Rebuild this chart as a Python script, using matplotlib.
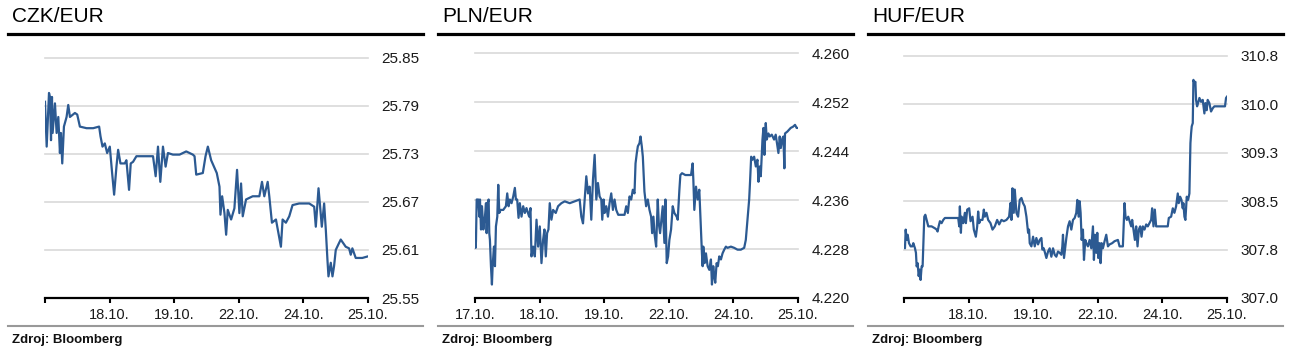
import matplotlib
matplotlib.use("Agg")
import matplotlib.pyplot as plt
from matplotlib.lines import Line2D

plt.rcParams['font.family'] = ['Liberation Sans', 'DejaVu Sans']

# x positions are in trading-day units: 0 = 17.10., 5 = 25.10.
day_labels = ['17.10.', '18.10.', '19.10.', '22.10.', '24.10.', '25.10.']

czk_ticks = [25.55, 25.61, 25.67, 25.73, 25.79, 25.85]
czk_labels = ['25.55', '25.61', '25.67', '25.73', '25.79', '25.85']
czk_points = [
    (0, 25.795), (0.026, 25.739), (0.062, 25.806), (0.077, 25.801), (0.093, 25.747),
    (0.108, 25.801), (0.118, 25.756), (0.154, 25.793), (0.180, 25.756), (0.206, 25.776),
    (0.231, 25.731), (0.247, 25.756), (0.267, 25.718), (0.293, 25.764), (0.334, 25.776),
    (0.360, 25.791), (0.386, 25.776), (0.463, 25.781), (0.499, 25.779), (0.540, 25.764),
    (0.643, 25.762), (0.746, 25.762), (0.838, 25.764), (0.859, 25.752), (0.890, 25.739),
    (0.926, 25.743), (0.962, 25.731), (1.003, 25.739), (1.039, 25.706), (1.070, 25.679),
    (1.106, 25.714), (1.132, 25.735), (1.168, 25.718), (1.235, 25.718), (1.260, 25.722),
    (1.301, 25.685), (1.327, 25.718), (1.363, 25.720), (1.415, 25.727), (1.466, 25.727),
    (1.569, 25.727), (1.672, 25.727), (1.713, 25.702), (1.749, 25.739), (1.785, 25.695),
    (1.826, 25.739), (1.867, 25.714), (1.903, 25.731), (1.980, 25.729), (2.083, 25.729),
    (2.186, 25.733), (2.289, 25.729), (2.315, 25.727), (2.341, 25.704), (2.443, 25.706),
    (2.485, 25.727), (2.521, 25.739), (2.572, 25.722), (2.659, 25.706), (2.701, 25.689),
    (2.716, 25.654), (2.742, 25.677), (2.778, 25.656), (2.804, 25.629), (2.829, 25.660),
    (2.881, 25.648), (2.932, 25.662), (2.973, 25.710), (3.009, 25.656), (3.035, 25.693),
    (3.061, 25.652), (3.112, 25.673), (3.215, 25.677), (3.318, 25.677), (3.359, 25.695),
    (3.395, 25.677), (3.447, 25.695), (3.472, 25.677), (3.513, 25.644), (3.575, 25.648),
    (3.652, 25.614), (3.678, 25.648), (3.729, 25.644), (3.781, 25.652), (3.832, 25.666),
    (3.935, 25.668), (4.090, 25.668), (4.167, 25.664), (4.192, 25.639), (4.234, 25.687),
    (4.259, 25.664), (4.285, 25.639), (4.321, 25.668), (4.347, 25.635), (4.372, 25.598),
    (4.388, 25.577), (4.424, 25.594), (4.450, 25.577), (4.475, 25.590), (4.501, 25.610),
    (4.542, 25.617), (4.578, 25.623), (4.655, 25.614), (4.707, 25.612), (4.733, 25.604),
    (4.758, 25.612), (4.810, 25.600), (4.912, 25.600), (5.0, 25.602),
]

pln_ticks = [4.220, 4.228, 4.236, 4.244, 4.252, 4.260]
pln_labels = ['4.220', '4.228', '4.236', '4.244', '4.252', '4.260']
pln_points = [
    (0, 4.2295), (0.010, 4.2282), (0.015, 4.2293), (0.026, 4.2361), (0.051, 4.2361),
    (0.067, 4.2333), (0.077, 4.2361), (0.093, 4.2312), (0.108, 4.2350), (0.129, 4.2312),
    (0.144, 4.2328), (0.154, 4.2333), (0.170, 4.2355), (0.180, 4.2306), (0.195, 4.2355),
    (0.211, 4.2361), (0.221, 4.2306), (0.231, 4.2295), (0.247, 4.2252), (0.262, 4.2222),
    (0.273, 4.2252), (0.293, 4.2284), (0.309, 4.2252), (0.324, 4.2317), (0.345, 4.2333),
    (0.360, 4.2385), (0.376, 4.2339), (0.396, 4.2344), (0.437, 4.2344), (0.478, 4.2350),
    (0.499, 4.2371), (0.520, 4.2350), (0.540, 4.2361), (0.566, 4.2355), (0.592, 4.2366),
    (0.617, 4.2380), (0.633, 4.2361), (0.653, 4.2361), (0.674, 4.2331), (0.694, 4.2355),
    (0.720, 4.2333), (0.746, 4.2350), (0.772, 4.2339), (0.797, 4.2347), (0.838, 4.2333),
    (0.859, 4.2347), (0.874, 4.2268), (0.900, 4.2284), (0.926, 4.2268), (0.952, 4.2328),
    (0.977, 4.2284), (1.003, 4.2317), (1.029, 4.2257), (1.054, 4.2295), (1.075, 4.2312),
    (1.096, 4.2268), (1.116, 4.2306), (1.137, 4.2312), (1.157, 4.2355), (1.183, 4.2328),
    (1.209, 4.2344), (1.250, 4.2339), (1.286, 4.2350), (1.337, 4.2355), (1.389, 4.2358),
    (1.466, 4.2355), (1.543, 4.2358), (1.620, 4.2361), (1.646, 4.2333), (1.672, 4.2322),
    (1.698, 4.2361), (1.723, 4.2399), (1.749, 4.2371), (1.775, 4.2382), (1.800, 4.2328),
    (1.826, 4.2393), (1.852, 4.2434), (1.878, 4.2361), (1.903, 4.2388), (1.929, 4.2366),
    (1.955, 4.2361), (1.970, 4.2328), (1.991, 4.2361), (2.006, 4.2339), (2.032, 4.2350),
    (2.058, 4.2333), (2.083, 4.2355), (2.109, 4.2371), (2.135, 4.2344), (2.160, 4.2361),
    (2.186, 4.2344), (2.217, 4.2336), (2.263, 4.2336), (2.315, 4.2336), (2.341, 4.2350),
    (2.366, 4.2339), (2.392, 4.2366), (2.418, 4.2361), (2.443, 4.2377), (2.469, 4.2371),
    (2.485, 4.2420), (2.505, 4.2437), (2.521, 4.2448), (2.546, 4.2453), (2.562, 4.2464),
    (2.582, 4.2448), (2.598, 4.2431), (2.623, 4.2374), (2.649, 4.2350), (2.675, 4.2361),
    (2.701, 4.2344), (2.726, 4.2333), (2.742, 4.2306), (2.762, 4.2333), (2.778, 4.2306),
    (2.804, 4.2284), (2.829, 4.2361), (2.845, 4.2322), (2.865, 4.2306), (2.896, 4.2339),
    (2.906, 4.2350), (2.932, 4.2290), (2.948, 4.2361), (2.968, 4.2257), (2.989, 4.2268),
    (3.009, 4.2295), (3.035, 4.2312), (3.061, 4.2350), (3.086, 4.2339), (3.122, 4.2333),
    (3.138, 4.2328), (3.164, 4.2377), (3.179, 4.2401), (3.205, 4.2404), (3.256, 4.2401),
    (3.292, 4.2401), (3.344, 4.2401), (3.369, 4.2420), (3.380, 4.2393), (3.395, 4.2344),
    (3.421, 4.2382), (3.447, 4.2361), (3.472, 4.2377), (3.498, 4.2312), (3.513, 4.2273),
    (3.524, 4.2252), (3.534, 4.2284), (3.554, 4.2257), (3.575, 4.2273), (3.601, 4.2252),
    (3.627, 4.2246), (3.652, 4.2263), (3.668, 4.2222), (3.688, 4.2252), (3.704, 4.2235),
    (3.719, 4.2225), (3.740, 4.2257), (3.760, 4.2252), (3.781, 4.2268), (3.807, 4.2263),
    (3.832, 4.2273), (3.858, 4.2279), (3.884, 4.2284), (3.909, 4.2282), (3.961, 4.2284),
    (4.012, 4.2282), (4.064, 4.2279), (4.115, 4.2279), (4.167, 4.2282), (4.192, 4.2295),
    (4.218, 4.2328), (4.244, 4.2361), (4.259, 4.2393), (4.275, 4.2431), (4.295, 4.2426),
    (4.321, 4.2431), (4.347, 4.2415), (4.372, 4.2426), (4.388, 4.2390), (4.408, 4.2415),
    (4.424, 4.2399), (4.450, 4.2459), (4.465, 4.2478), (4.480, 4.2434), (4.501, 4.2486),
    (4.516, 4.2459), (4.542, 4.2469), (4.563, 4.2464), (4.594, 4.2467), (4.630, 4.2459),
    (4.655, 4.2467), (4.681, 4.2448), (4.697, 4.2437), (4.717, 4.2464), (4.733, 4.2445),
    (4.758, 4.2461), (4.774, 4.2464), (4.789, 4.2412), (4.799, 4.2469), (4.835, 4.2472),
    (4.887, 4.2478), (4.923, 4.2480), (4.954, 4.2483), (4.979, 4.2478), (5.0, 4.2478),
]

huf_ticks = [307.0, 307.75, 308.5, 309.25, 310.0, 310.75]
huf_labels = ['307.0', '307.8', '308.5', '309.3', '310.0', '310.8']
huf_points = [
    (0, 307.80), (0.015, 307.77), (0.026, 308.06), (0.041, 307.90), (0.057, 307.98),
    (0.077, 307.85), (0.103, 307.80), (0.129, 307.80), (0.144, 307.85), (0.170, 307.77),
    (0.185, 307.70), (0.196, 307.49), (0.211, 307.54), (0.227, 307.34), (0.242, 307.44),
    (0.257, 307.28), (0.273, 307.49), (0.288, 307.49), (0.299, 307.83), (0.314, 308.26),
    (0.330, 308.29), (0.350, 308.21), (0.376, 308.11), (0.427, 308.11), (0.479, 308.08),
    (0.505, 308.06), (0.520, 308.03), (0.536, 308.11), (0.556, 308.19), (0.582, 308.16),
    (0.608, 308.21), (0.633, 308.24), (0.685, 308.24), (0.762, 308.24), (0.839, 308.24),
    (0.855, 308.11), (0.865, 308.42), (0.881, 308.01), (0.891, 308.26), (0.917, 308.16),
    (0.942, 308.32), (0.958, 308.16), (0.978, 308.37), (1.009, 308.39), (1.030, 308.19),
    (1.061, 308.26), (1.081, 308.06), (1.112, 307.95), (1.133, 308.11), (1.148, 308.34),
    (1.164, 308.16), (1.184, 308.21), (1.215, 308.21), (1.236, 308.37), (1.251, 308.26),
    (1.277, 308.32), (1.303, 308.21), (1.339, 308.16), (1.370, 308.06), (1.406, 308.11),
    (1.442, 308.21), (1.473, 308.14), (1.509, 308.21), (1.545, 308.19), (1.586, 308.21),
    (1.627, 308.26), (1.648, 308.47), (1.663, 308.21), (1.679, 308.70), (1.699, 308.32),
    (1.715, 308.68), (1.740, 308.32), (1.766, 308.26), (1.792, 308.52), (1.818, 308.55),
    (1.843, 308.47), (1.869, 308.42), (1.895, 308.26), (1.921, 308.01), (1.936, 308.06),
    (1.946, 307.85), (1.972, 307.80), (1.998, 307.95), (2.024, 307.80), (2.049, 307.93),
    (2.075, 307.83), (2.101, 307.90), (2.127, 307.93), (2.142, 307.75), (2.163, 307.77),
    (2.183, 307.70), (2.204, 307.62), (2.230, 307.72), (2.255, 307.77), (2.281, 307.64),
    (2.307, 307.77), (2.333, 307.67), (2.358, 307.64), (2.384, 307.72), (2.410, 307.70),
    (2.436, 307.67), (2.451, 307.80), (2.461, 307.98), (2.477, 307.62), (2.497, 307.80),
    (2.513, 307.93), (2.539, 308.11), (2.564, 308.19), (2.590, 308.06), (2.616, 308.21),
    (2.642, 308.24), (2.667, 308.32), (2.683, 308.52), (2.703, 308.26), (2.719, 308.50),
    (2.734, 308.32), (2.750, 307.90), (2.770, 308.06), (2.786, 307.59), (2.806, 307.90),
    (2.822, 307.85), (2.847, 307.80), (2.873, 307.90), (2.899, 307.77), (2.925, 308.11),
    (2.940, 307.59), (2.956, 307.98), (2.976, 307.70), (2.992, 308.01), (3.007, 307.62),
    (3.028, 307.85), (3.043, 307.54), (3.059, 307.85), (3.079, 307.77), (3.105, 307.88),
    (3.131, 307.98), (3.157, 307.80), (3.182, 307.83), (3.223, 307.85), (3.259, 307.88),
    (3.311, 307.90), (3.337, 307.80), (3.363, 307.80), (3.388, 307.80), (3.414, 308.47),
    (3.429, 308.26), (3.450, 308.21), (3.471, 308.26), (3.502, 308.16), (3.517, 308.11),
    (3.532, 308.21), (3.553, 308.06), (3.574, 307.90), (3.594, 308.11), (3.615, 307.80),
    (3.635, 308.06), (3.656, 308.11), (3.677, 307.95), (3.697, 308.11), (3.723, 308.06),
    (3.749, 308.14), (3.774, 308.11), (3.800, 308.16), (3.826, 308.21), (3.841, 308.39),
    (3.862, 308.11), (3.883, 308.37), (3.903, 308.11), (3.929, 308.11), (3.980, 308.11),
    (4.032, 308.11), (4.083, 308.11), (4.099, 308.24), (4.135, 308.26), (4.161, 308.39),
    (4.186, 308.32), (4.212, 308.42), (4.238, 308.62), (4.253, 308.47), (4.274, 308.57),
    (4.295, 308.52), (4.315, 308.39), (4.325, 308.47), (4.341, 308.26), (4.356, 308.21),
    (4.377, 308.57), (4.398, 308.52), (4.418, 308.62), (4.434, 309.40), (4.444, 309.55),
    (4.454, 309.66), (4.470, 309.71), (4.480, 310.38), (4.495, 310.33), (4.511, 310.35),
    (4.521, 310.07), (4.537, 309.97), (4.552, 310.02), (4.573, 310.10), (4.598, 310.04),
    (4.624, 310.07), (4.650, 309.86), (4.665, 310.02), (4.686, 309.91), (4.701, 310.07),
    (4.727, 310.02), (4.753, 309.89), (4.779, 309.94), (4.804, 309.97), (4.830, 309.97),
    (4.882, 309.97), (4.933, 309.97), (4.969, 309.97), (4.985, 310.10), (5.0, 310.12),
]

W, H = 1290, 356
LINE_COLOR = '#2c5a92'


def draw_panel(fig, off, plot_left, plot_top, title, points, ticks, labels, show_first_day):
    # decorations in figure pixels
    fig.add_artist(Line2D([(off + 8) / W, (off + 423) / W], [1 - 34 / H, 1 - 34 / H],
                          color='black', lw=2.3))
    fig.add_artist(Line2D([(off + 8) / W, (off + 423) / W], [1 - 326 / H, 1 - 326 / H],
                          color='#999999', lw=1.5))
    fig.text((off + 12) / W, 1 - 16 / H, title, fontsize=15, va='center', ha='left', color='black')
    fig.text((off + 12) / W, 1 - 340 / H, 'Zdroj: Bloomberg', fontsize=9.5, fontweight='bold',
             va='center', ha='left', color='#111111')

    ax = fig.add_axes([plot_left / W, (H - 298) / H, 323 / W, (298 - plot_top) / H])
    t = [p[0] for p in points]
    v = [p[1] for p in points]
    ax.plot(t, v, color=LINE_COLOR, lw=1.6, zorder=3)

    for y in ticks[1:]:
        ax.axhline(y, color='#d9d9d9', lw=1.2, zorder=1, clip_on=False)

    ax.set_xlim(0, 5)
    ax.set_ylim(ticks[0], ticks[-1])
    ax.set_yticks(ticks)
    ax.set_yticklabels(labels)
    ax.yaxis.tick_right()
    ax.tick_params(axis='y', length=0, pad=9.5, labelsize=11, labelcolor='#1a1a1a')

    ax.set_xticks(range(6))
    xl = list(day_labels)
    if not show_first_day:
        xl[0] = ''
    ax.set_xticklabels(xl)
    ax.tick_params(axis='x', direction='out', length=3.5, width=1.5, color='black',
                   pad=4, labelsize=10.5, labelcolor='#1a1a1a')

    for s in ['top', 'left', 'right']:
        ax.spines[s].set_visible(False)
    ax.spines['bottom'].set_linewidth(1.6)
    ax.spines['bottom'].set_color('black')
    ax.patch.set_alpha(0)
    return ax


fig = plt.figure(figsize=(12.9, 3.56), dpi=100)

draw_panel(fig, 0, 45, 57.7, 'CZK/EUR', czk_points, czk_ticks, czk_labels, False)
draw_panel(fig, 430, 475, 53.3, 'PLN/EUR', pln_points, pln_ticks, pln_labels, True)
draw_panel(fig, 860, 904, 56, 'HUF/EUR', huf_points, huf_ticks, huf_labels, False)

plt.savefig('out.png', dpi=100)
